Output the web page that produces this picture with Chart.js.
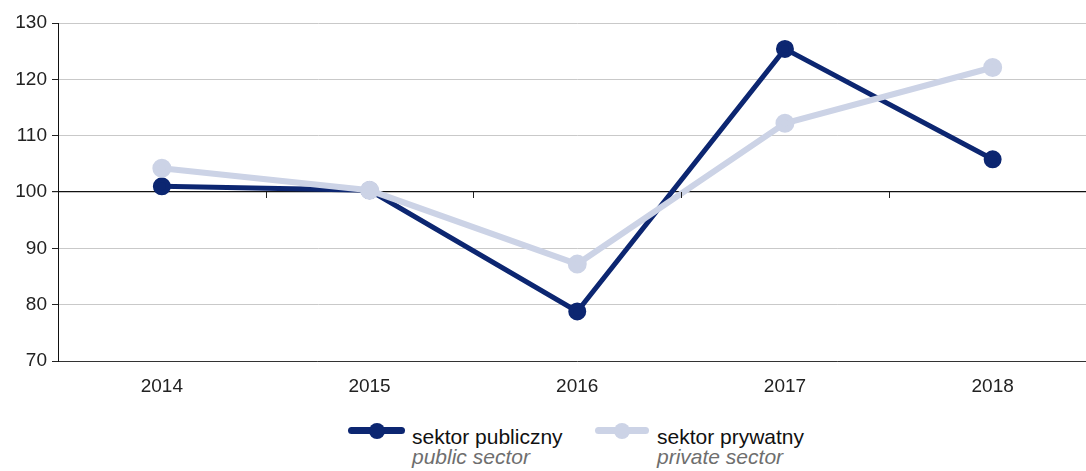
<!DOCTYPE html>
<html lang="pl">
<head>
  <meta charset="UTF-8">
  <title>Sektor publiczny / prywatny</title>
  <script src="https://cdn.jsdelivr.net/npm/chart.js"></script>
  <style>
    html, body {
      margin: 0;
      padding: 0;
      background: #ffffff;
      overflow: hidden;
      font-family: "Liberation Sans", Arial, sans-serif;
    }
    .wrap {
      position: relative;
      width: 1109px;
      height: 400px;
    }
    .legend {
      position: absolute;
      top: 427px;
      left: 0;
      width: 1086px;
      font-size: 21px;
      line-height: 20px;
    }
    .item {
      position: absolute;
      top: 0;
      color: #111;
    }
    .item .en {
      color: #6e6e6e;
      font-style: italic;
      display: block;
    }
    .sw {
      position: absolute;
      top: 0;
      height: 7px;
      border-radius: 4px;
    }
    .sw span {
      position: absolute;
      left: 50%;
      top: 50%;
      width: 16px;
      height: 16px;
      margin: -8px 0 0 -8px;
      border-radius: 50%;
    }
  </style>
</head>
<body>

  <div class="wrap">
    <canvas id="chart"></canvas>
  </div>

  <div class="legend">
    <div class="sw" style="left:348px;width:57px;background:#0c2671"><span style="background:#0c2671"></span></div>
    <div class="item" style="left:412px">sektor publiczny<span class="en">public sector</span></div>
    <div class="sw" style="left:595px;width:54px;background:#ccd3e6"><span style="background:#ccd3e6"></span></div>
    <div class="item" style="left:657px">sektor prywatny<span class="en">private sector</span></div>
  </div>

  <script>
    const years = ["2014", "2015", "2016", "2017", "2018"];
    const publicSector = [101.0, 100.3, 78.8, 125.4, 105.8];
    const privateSector = [104.2, 100.3, 87.2, 112.2, 122.1];

    // small tick marks on the 100 line, between categories
    const baseTicks = {
      id: "baseTicks",
      afterDatasetsDraw(chart) {
        const ctx = chart.ctx;
        const x = chart.scales.x;
        const y0 = chart.scales.y.getPixelForValue(100);
        ctx.save();
        ctx.strokeStyle = "#222";
        ctx.lineWidth = 1;
        for (let i = 1; i < years.length; i++) {
          const px = Math.round((x.getPixelForValue(i - 1) + x.getPixelForValue(i)) / 2) + 0.5;
          ctx.beginPath();
          ctx.moveTo(px, y0);
          ctx.lineTo(px, y0 + 6);
          ctx.stroke();
        }
        ctx.restore();
      }
    };

    new Chart(document.getElementById("chart"), {
      type: "line",
      data: {
        labels: years,
        datasets: [
          {
            label: "sektor prywatny",
            data: privateSector,
            borderColor: "#ccd3e6",
            backgroundColor: "#ccd3e6",
            borderWidth: 6,
            pointRadius: 6.5,
            pointHoverRadius: 6.5,
            fill: false,
            tension: 0
          },
          {
            label: "sektor publiczny",
            data: publicSector,
            borderColor: "#0c2671",
            backgroundColor: "#0c2671",
            borderWidth: 5,
            pointRadius: 6.5,
            pointHoverRadius: 6.5,
            fill: false,
            tension: 0
          }
        ]
      },
      options: {
        responsive: true,
        maintainAspectRatio: false,
        animation: false,
        layout: { padding: { top: 23, right: 0, left: 0, bottom: 0 } },
        plugins: {
          legend: { display: false },
          tooltip: { enabled: false }
        },
        scales: {
          x: {
            offset: true,
            grid: { display: false },
            border: { display: true, color: "#333", width: 1 },
            ticks: {
              color: "#222",
              padding: 6,
              font: { family: "Liberation Sans", size: 19 }
            },
            afterFit(scale) { scale.height = 39; }
          },
          y: {
            min: 70,
            max: 130,
            ticks: {
              stepSize: 10,
              color: "#222",
              padding: 5,
              font: { family: "Liberation Sans", size: 19 }
            },
            grid: {
              color: ctx => ctx.tick && ctx.tick.value === 100 ? "#111" : "#c9c9c9",
              lineWidth: ctx => ctx.tick && ctx.tick.value === 100 ? 1.2 : 1,
              tickColor: "#222",
              tickLength: 6
            },
            border: { display: true, color: "#111", width: 1 },
            afterFit(scale) { scale.width = 58; }
          }
        }
      },
      plugins: [baseTicks]
    });
  </script>

</body>
</html>
